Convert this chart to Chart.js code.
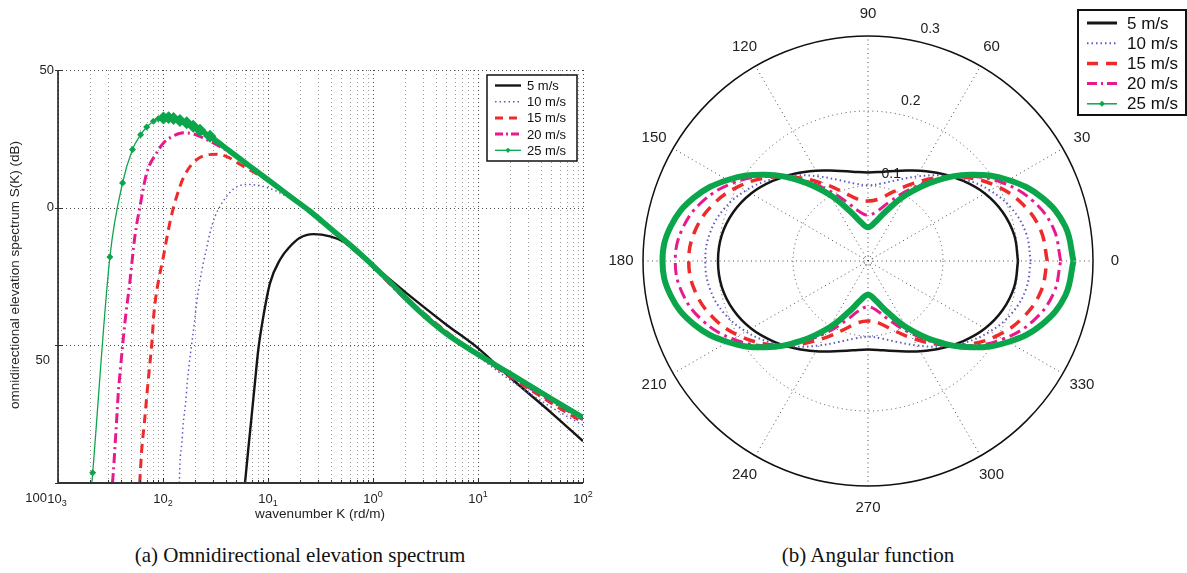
<!DOCTYPE html>
<html>
<head>
<meta charset="utf-8">
<script src="https://cdn.jsdelivr.net/npm/chart.js@4.4.0/dist/chart.umd.min.js"></script>
<style>
html,body{margin:0;padding:0;background:#fff;width:1187px;height:573px;overflow:hidden}
#left{position:absolute;left:0;top:0}
#right{position:absolute;left:600px;top:0}
.cap{position:absolute;top:542px;line-height:26px;font-family:"Liberation Serif","DejaVu Serif",serif;font-size:21px;color:#111;white-space:nowrap;transform:translateX(-50%)}
</style>
</head>
<body>
<canvas id="left" width="600" height="530"></canvas>
<canvas id="right" width="587" height="530"></canvas>
<div class="cap" style="left:300px">(a) Omnidirectional elevation spectrum</div>
<div class="cap" style="left:868px">(b) Angular function</div>
<script>
// ---- data ----
const LABELS = ["5 m/s","10 m/s","15 m/s","20 m/s","25 m/s"];

// (a) wavenumber K (rd/m) and S(K) in dB, one pair of arrays per wind speed
const K_5  = [0.0604,0.0648,0.0697,0.0749,0.0808,0.0903,0.1045,0.130,0.162,0.20,0.27,0.39,0.52,0.75,1.0,2.0,5.0,10,20,50,100];
const DB_5 = [-100,-88,-76,-64,-51.6,-39.5,-27.4,-18.9,-14.1,-11.0,-9.6,-10.4,-12.3,-17.3,-21.0,-30.5,-42.5,-51.0,-61.5,-74.5,-84.8];
const K_10  = [0.0143,0.0145,0.0151,0.0156,0.0164,0.0170,0.0178,0.0188,0.0199,0.0209,0.0225,0.0242,0.0261,0.0280,0.0313,0.0349,0.0404,0.0485,0.0627,0.0840,0.112,0.140,0.20,0.5,1.0,2.0,5.0,10,20,50,100];
const DB_10 = [-100,-92.8,-85.6,-78.3,-71.0,-63.8,-56.5,-49.2,-41.9,-34.7,-26.5,-20.1,-14.5,-9.2,-3.2,0.5,4.1,7.2,8.4,8.0,6.5,4.7,1.6,-10.5,-21.0,-32.0,-45.0,-54.0,-62.5,-72.5,-79.0];
const K_15  = [0.0060,0.00627,0.00664,0.0070,0.0074,0.00783,0.0082,0.00883,0.0101,0.0108,0.0121,0.0145,0.0162,0.0194,0.0242,0.0326,0.0434,0.054,0.1,0.2,0.5,1.0,2.0,5.0,10,20,50,100];
const DB_15 = [-100,-88,-78.3,-68.6,-58.9,-49.2,-38.3,-29,-17.7,-11.6,-2.5,7.7,12.0,16.3,18.8,19.4,18.0,15.8,9.8,1.8,-10.6,-21.2,-32.3,-45.0,-53.5,-61.3,-71.0,-78.0];
const K_20  = [0.0033,0.00336,0.00349,0.00362,0.00375,0.00395,0.00419,0.00444,0.00478,0.0054,0.00604,0.0070,0.0087,0.0101,0.0125,0.0156,0.0195,0.0242,0.0302,0.05,0.1,0.2,0.5,1.0,2.0,5.0,10,20,50,100];
const DB_20 = [-100,-96.5,-86.8,-77.1,-67.4,-57.7,-47.4,-38.3,-28.6,-10.4,0.5,12.6,19.9,23.5,26.0,27.2,26.8,25.3,23.5,18.5,10.0,1.8,-10.8,-21.6,-33.0,-45.5,-53.5,-61.0,-70.3,-77.0];
const K_25  = [0.00208,0.00214,0.00312,0.00412,0.00512,0.00612,0.0070,0.0081,0.0090,0.0101,0.0113,0.0126,0.0145,0.0168,0.0194,0.0225,0.028,0.0434,0.0674,0.1045,0.162,0.251,0.39,0.605,0.871,1.33,2.8,5.0,10,20,50,100];
const DB_25 = [-102,-96.3,-17.9,9.0,21.1,26.5,29.3,31.4,32.3,32.6,32.7,32.4,31.7,30.8,29.6,28.1,25.9,20.5,15.0,9.6,4.1,-1.3,-7.4,-13.5,-18.9,-25.6,-37.8,-45.8,-53.3,-60.2,-69.4,-76.3];

const X_TICKS = [1e-3,1e-2,1e-1,1,10,100];
const X_EXP = [-3,-2,-1,0,1,2];
const Y_TICKS = [50,0,-50,-100];
const Y_TEXT = ["50","0","50","100"]; // the figure lost its minus signs

// (b) angular function, radius vs angle (deg); the curves are symmetric about both axes
const ANG  = [0,10,20,30,40,50,60,70,80,90];
const R_5  = [0.200,0.198,0.191,0.180,0.166,0.152,0.139,0.128,0.121,0.118];
const R_10 = [0.217,0.214,0.204,0.188,0.169,0.149,0.130,0.115,0.105,0.101];
const R_15 = [0.239,0.234,0.220,0.199,0.173,0.145,0.119,0.098,0.084,0.080];
const R_20 = [0.257,0.251,0.234,0.208,0.176,0.142,0.110,0.084,0.067,0.061];
const R_25 = [0.274,0.267,0.247,0.216,0.179,0.139,0.102,0.071,0.052,0.045];
const ANG_TICKS = [0,30,60,90,120,150,180,210,240,270,300,330];
const R_TICKS = [0.1,0.2,0.3];

// ---- styles ----
const G = "#0ba64c";
const COLORS = ["#151515","#5b5bc6","#ee2a2a","#e8198c",G];
const FONT = '"Liberation Sans", Arial, sans-serif';
const pts = (k,d)=>k.map((v,i)=>({x:v,y:d[i]}));

function line(ctx,x0,y0,x1,y1,col,w,dash){ ctx.strokeStyle=col; ctx.lineWidth=w; ctx.setLineDash(dash||[]); ctx.beginPath(); ctx.moveTo(x0,y0); ctx.lineTo(x1,y1); ctx.stroke(); }
function diamond(ctx,x,y,r,col){ ctx.setLineDash([]); ctx.fillStyle=col; ctx.beginPath(); ctx.moveTo(x,y-r); ctx.lineTo(x+r,y); ctx.lineTo(x,y+r); ctx.lineTo(x-r,y); ctx.closePath(); ctx.fill(); }
function legend(ctx,o){
  ctx.fillStyle="#fff"; ctx.fillRect(o.x,o.y,o.w,o.h);
  ctx.setLineDash([]); ctx.lineWidth=o.bw; ctx.strokeStyle="#111"; ctx.strokeRect(o.x,o.y,o.w,o.h);
  LABELS.forEach((lab,i)=>{
    const yy=o.y0+i*o.dy;
    line(ctx,o.s0,yy,o.s1,yy,COLORS[i],o.widths[i],o.dashes[i]);
    if(i===4) diamond(ctx,(o.s0+o.s1)/2,yy,o.mr,G);
    ctx.fillStyle="#111"; ctx.font=o.font; ctx.textAlign="left"; ctx.textBaseline="middle";
    ctx.fillText(lab,o.tx,yy+1);
  });
}
function pow10(ctx,x,y,e){
  ctx.font="13px "+FONT; const w1=ctx.measureText("10").width;
  ctx.font="9px "+FONT; const s=String(Math.abs(e)); const w2=ctx.measureText(s).width;
  const x0=x-(w1+w2)/2;
  ctx.textAlign="left"; ctx.textBaseline="alphabetic"; ctx.fillStyle="#222";
  ctx.font="13px "+FONT; ctx.fillText("10",x0,y);
  ctx.font="9px "+FONT; ctx.fillText(s,x0+w1,e<0?y+3:y-6);
}

// ---- (a) plot decorations ----
const leftDeco = {
  id:"leftDeco",
  beforeDatasetsDraw(chart){
    const {ctx,chartArea:a,scales:{x,y}} = chart;
    ctx.save();
    for(let e=-3;e<2;e++) for(let m=2;m<=9;m++){
      const px=Math.round(x.getPixelForValue(m*Math.pow(10,e)))+0.5;
      line(ctx,px,a.top,px,a.bottom,"#9c9c9c",1,[1,3]);
    }
    X_TICKS.forEach(v=>{ const px=Math.round(x.getPixelForValue(v))+0.5; line(ctx,px,a.top,px,a.bottom,"#4a4a4a",1,[1,3]); });
    Y_TICKS.slice(0,3).forEach(v=>{ const py=Math.round(y.getPixelForValue(v))+0.5; line(ctx,a.left,py,a.right,py,"#4a4a4a",1,[1,3]); });
    ctx.restore();
  },
  afterDatasetsDraw(chart){
    const {ctx,chartArea:a,scales:{x,y}} = chart;
    ctx.save();
    // axes
    line(ctx,a.left,a.top,a.left,a.bottom,"#111",1.5);
    line(ctx,a.left,a.bottom,a.right,a.bottom,"#333",2);
    for(let e=-3;e<2;e++) for(let m=2;m<=9;m++){
      const px=Math.round(x.getPixelForValue(m*Math.pow(10,e)))+0.5;
      line(ctx,px,a.bottom,px,a.bottom-3,"#333",1);
    }
    X_TICKS.forEach(v=>{ const px=Math.round(x.getPixelForValue(v))+0.5; line(ctx,px,a.bottom,px,a.bottom-5,"#333",1); });
    Y_TICKS.forEach(v=>{ const py=Math.round(y.getPixelForValue(v))+0.5; line(ctx,a.left-3,py,a.left+5,py,"#333",1); });
    // tick labels
    ctx.fillStyle="#222"; ctx.font="13px "+FONT; ctx.textAlign="right"; ctx.textBaseline="middle";
    const yOff=[[54,0],[54,0],[50,15],[47,15]];
    Y_TICKS.forEach((v,i)=>ctx.fillText(Y_TEXT[i],yOff[i][0],y.getPixelForValue(v)+yOff[i][1]));
    X_TICKS.forEach((v,i)=>pow10(ctx,x.getPixelForValue(v)+(i===0?-1:0),a.bottom+20,X_EXP[i]));
    // titles
    ctx.fillStyle="#222"; ctx.font="13.5px "+FONT; ctx.textAlign="center"; ctx.textBaseline="middle";
    ctx.fillText("wavenumber K (rd/m)",320,514);
    ctx.save(); ctx.translate(15,275); ctx.rotate(-Math.PI/2);
    ctx.fillText("omnidirectional elevation spectrum S(K) (dB)",0,0); ctx.restore();
    legend(ctx,{x:487,y:75,w:90,h:86,bw:1.5,y0:85.5,dy:16.2,s0:495,s1:521,tx:527,font:"13px "+FONT,mr:2.6,
      widths:[2.4,1.5,3,3,1.3],dashes:[[],[1.5,3],[8,6],[8,3,2,3],[]]});
    ctx.restore();
  }
};

new Chart(document.getElementById("left"),{
  type:"scatter",
  data:{datasets:[
    {data:pts(K_25,DB_25).slice(0,10),showLine:true,borderColor:G,borderWidth:1.3,pointStyle:"rectRot",
      pointRadius:c=>c.raw&&c.raw.y>-100?2.6:0,pointBackgroundColor:G,pointBorderColor:G,order:0},
    {data:pts(K_25,DB_25).slice(9),showLine:true,borderColor:G,borderWidth:5.5,pointStyle:"rectRot",
      pointRadius:c=>c.raw&&c.raw.x<0.03?2.6:0,pointBackgroundColor:G,pointBorderColor:G,order:1},
    {data:pts(K_20,DB_20),showLine:true,borderColor:COLORS[3],borderWidth:3,borderDash:[10,4,2,4],order:2},
    {data:pts(K_15,DB_15),showLine:true,borderColor:COLORS[2],borderWidth:3,borderDash:[9,6],order:3},
    {data:pts(K_10,DB_10),showLine:true,borderColor:COLORS[1],borderWidth:1.5,borderDash:[1.5,3],order:4},
    {data:pts(K_5,DB_5),showLine:true,borderColor:COLORS[0],borderWidth:2.4,order:5}
  ]},
  options:{
    responsive:false,animation:false,events:[],devicePixelRatio:1,
    layout:{padding:{left:58,top:70,right:17,bottom:47}},
    plugins:{legend:{display:false},tooltip:{enabled:false}},
    elements:{point:{radius:0},line:{cubicInterpolationMode:"monotone"}},
    scales:{
      x:{type:"logarithmic",min:1e-3,max:100,display:false},
      y:{type:"linear",min:-100,max:50,display:false}
    }
  },
  plugins:[leftDeco]
});

// ---- (b) polar plot ----
function polar(r){
  const out=[];
  for(let a=0;a<=360;a+=10){
    let f=a%180; if(f>90) f=180-f;
    const v=r[ANG.indexOf(f)], t=a*Math.PI/180;
    out.push({x:v*Math.cos(t),y:v*Math.sin(t)});
  }
  return out;
}

const rightDeco = {
  id:"rightDeco",
  beforeDatasetsDraw(chart){
    const {ctx,scales:{x,y}} = chart;
    const cx=x.getPixelForValue(0), cy=y.getPixelForValue(0), rp=v=>x.getPixelForValue(v)-cx;
    const R=rp(0.3);
    ctx.save();
    ANG_TICKS.slice(0,6).forEach(d=>{
      const t=d*Math.PI/180;
      line(ctx,cx-R*Math.cos(t),cy+R*Math.sin(t),cx+R*Math.cos(t),cy-R*Math.sin(t),"#4a4a4a",1,[1,3.5]);
    });
    [0.1,0.2,0.0065].forEach(v=>{ ctx.setLineDash([1,3.5]); ctx.strokeStyle="#4a4a4a"; ctx.lineWidth=1; ctx.beginPath(); ctx.arc(cx,cy,rp(v),0,2*Math.PI); ctx.stroke(); });
    ctx.setLineDash([]); ctx.strokeStyle="#111"; ctx.lineWidth=1.5; ctx.beginPath(); ctx.arc(cx,cy,R,0,2*Math.PI); ctx.stroke();
    ctx.fillStyle="#222"; ctx.font="14px "+FONT; ctx.textAlign="center"; ctx.textBaseline="middle";
    const ta=75*Math.PI/180;
    R_TICKS.forEach(v=>{ const rr=rp(v)+15; ctx.fillText(String(v),cx+rr*Math.cos(ta),cy-rr*Math.sin(ta)); });
    ctx.font="15px "+FONT;
    ANG_TICKS.forEach(d=>{ const t=d*Math.PI/180, rr=R+22; ctx.fillText(String(d),cx+rr*Math.cos(t),cy-rr*Math.sin(t)); });
    ctx.restore();
  },
  afterDatasetsDraw(chart){
    const {ctx} = chart;
    ctx.save();
    legend(ctx,{x:478,y:10,w:108,h:105,bw:2,y0:23,dy:20.2,s0:487,s1:517,tx:527,font:"17px "+FONT,mr:3,
      widths:[3,2,3.5,3,1.5],dashes:[[],[1.5,3],[11,8],[10,4,2,4],[]]});
    ctx.restore();
  }
};

new Chart(document.getElementById("right"),{
  type:"scatter",
  data:{datasets:[
    {data:polar(R_25),showLine:true,borderColor:G,borderWidth:6,order:0},
    {data:polar(R_20),showLine:true,borderColor:COLORS[3],borderWidth:3,borderDash:[12,5,3,5],order:1},
    {data:polar(R_15),showLine:true,borderColor:COLORS[2],borderWidth:3.5,borderDash:[12,8],order:2},
    {data:polar(R_10),showLine:true,borderColor:COLORS[1],borderWidth:2,borderDash:[1.5,3],order:3},
    {data:polar(R_5),showLine:true,borderColor:COLORS[0],borderWidth:2.5,order:4}
  ]},
  options:{
    responsive:false,animation:false,events:[],devicePixelRatio:1,
    layout:{padding:{left:43,top:36,right:94,bottom:44}},
    plugins:{legend:{display:false},tooltip:{enabled:false}},
    elements:{point:{radius:0},line:{tension:0.4}},
    scales:{
      x:{type:"linear",min:-0.3,max:0.3,display:false},
      y:{type:"linear",min:-0.3,max:0.3,display:false}
    }
  },
  plugins:[rightDeco]
});
</script>
</body>
</html>
